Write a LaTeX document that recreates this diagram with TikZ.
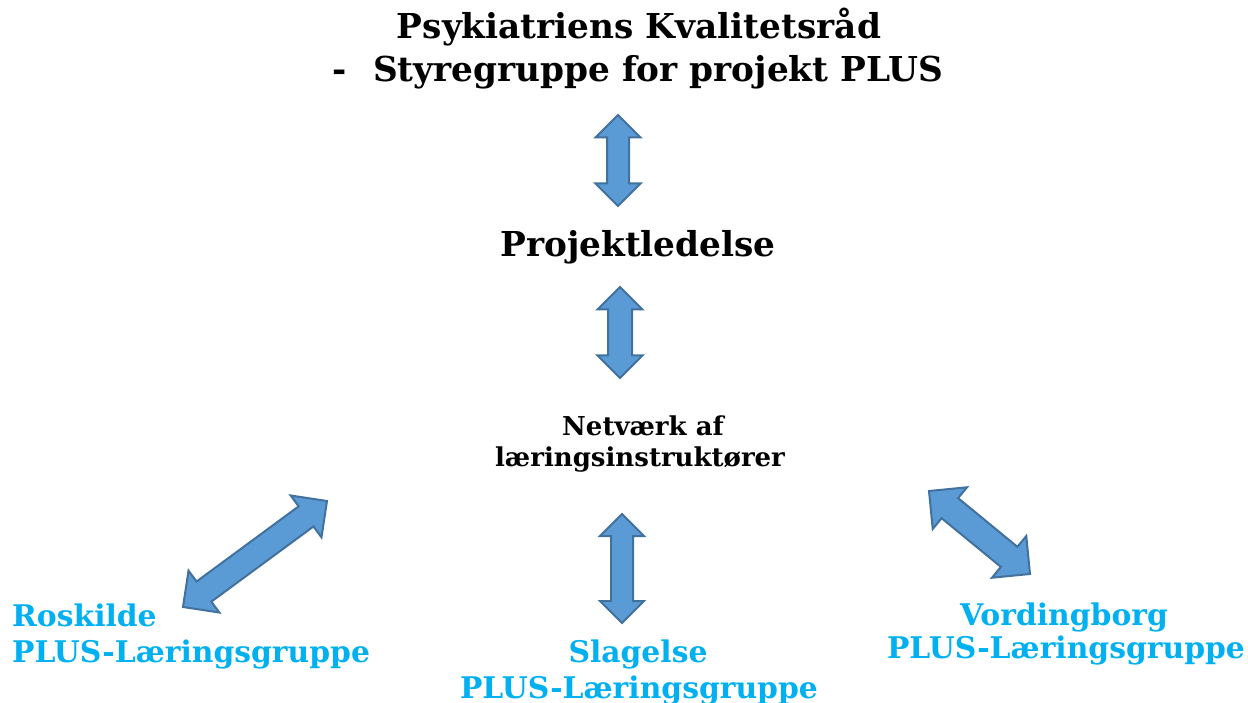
\documentclass[tikz,border=0pt]{standalone}
\usepackage{fontspec}
\setmainfont{DejaVu Serif}
\usetikzlibrary{calc}
\definecolor{arrowfill}{HTML}{5B9BD5}
\definecolor{arrowline}{HTML}{41719C}
\definecolor{citycol}{HTML}{00B0F0}
\tikzset{
  bigtext/.style={font=\fontsize{34.3}{38}\selectfont\bfseries, text=black, inner sep=0pt, anchor=base},
  midtext/.style={font=\fontsize{26}{30}\selectfont\bfseries, text=black, inner sep=0pt, anchor=base},
  citytext/.style={font=\fontsize{29.8}{34}\selectfont\bfseries, text=citycol, inner sep=0pt, anchor=base},
  blockarrow/.style={draw=arrowline, fill=arrowfill, line width=2pt, line join=miter},
}
% #1 start coordinate, #2 end coordinate, #3 head half width, #4 shaft half width
\newcommand\blockarr[4]{%
  \path let \p1=($(#2)-(#1)$), \n1={atan2(\y1,\x1)}, \n2={veclen(\x1,\y1)} in
    \pgfextra{\xdef\baang{\n1}\xdef\balen{\n2}};
  \begin{scope}[shift={(#1)}, rotate=\baang, x=1pt, y=1pt]
    \draw[blockarrow] (0,0) -- (#3,#3) -- (#3,#4) -- ({\balen-#3},#4) -- ({\balen-#3},#3)
      -- (\balen,0) -- ({\balen-#3},-#3) -- ({\balen-#3},-#4) -- (#3,-#4) -- (#3,-#3) -- cycle;
  \end{scope}}
\begin{document}
\begin{tikzpicture}[x=1pt, y=-1pt]
  \useasboundingbox (0,0) rectangle (1248,703);
  % texts
  \node[bigtext] (t1) at (639,39) {Psykiatriens Kvalitetsråd};
  \node[bigtext] (t2) at (638,82) {-\hspace{26pt}Styregruppe for projekt PLUS};
  \node[bigtext] (proj) at (638,257) {Projektledelse};
  \node[midtext] (net1) at (643,435) {Netværk af};
  \node[midtext] (net2) at (640,466) {læringsinstruktører};
  \node[citytext, anchor=base west] (ros1) at (12,626) {Roskilde};
  \node[citytext, anchor=base west] (ros2) at (12,662) {PLUS-Læringsgruppe};
  \node[citytext] (sla1) at (638,662) {Slagelse};
  \node[citytext] (sla2) at (639,698) {PLUS-Læringsgruppe};
  \node[citytext] (vor1) at (1064,625) {Vordingborg};
  \node[citytext] (vor2) at (1066,658) {PLUS-Læringsgruppe};
  % arrow end points
  \coordinate (a1s) at (618,115);
  \coordinate (a1e) at (618,206);
  \coordinate (a2s) at (620,287);
  \coordinate (a2e) at (620,378);
  \coordinate (a3s) at (622,514);
  \coordinate (a3e) at (622,623);
  \coordinate (a4s) at (183,607);
  \coordinate (a4e) at (327,501);
  \coordinate (a5s) at (929,491);
  \coordinate (a5e) at (1030,574);
  \blockarr{a1s}{a1e}{22.5}{11}
  \blockarr{a2s}{a2e}{22.5}{12}
  \blockarr{a3s}{a3e}{22}{11}
  \blockarr{a4s}{a4e}{26}{12.5}
  \blockarr{a5s}{a5e}{27}{13}
\end{tikzpicture}
\end{document}
